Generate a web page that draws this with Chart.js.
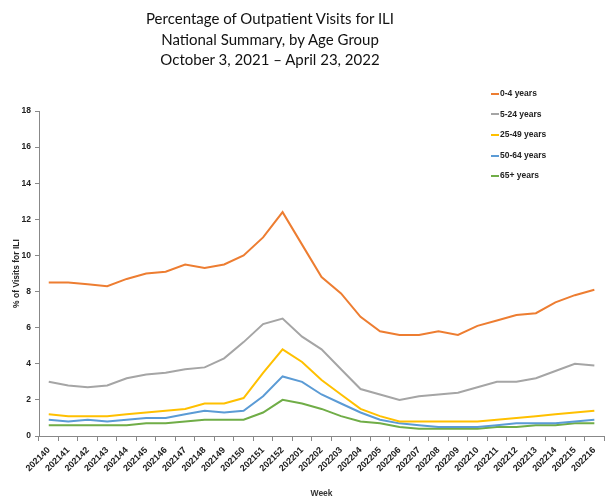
<!DOCTYPE html>
<html>
<head>
<meta charset="utf-8">
<script src="https://cdn.jsdelivr.net/npm/chart.js@4"></script>
<style>
  body { margin: 0; background: #fff; }
  #wrap { position: relative; width: 606px; height: 500px; }
  #title {
    position: absolute; left: 0; top: 8px; width: 540px;
    text-align: center; font-family: Lato, "Open Sans", sans-serif;
    font-size: 15px; line-height: 20.5px; color: #111;
  }
  #legend {
    position: absolute; left: 491px; top: 86px;
    font-family: "Liberation Sans", Arial, sans-serif; font-weight: bold;
    font-size: 8.5px; color: #222;
  }
  #legend div { height: 20.6px; line-height: 14px; white-space: nowrap; }
  #legend span.swatch {
    display: inline-block; width: 8px; height: 2px; vertical-align: middle;
    margin-right: 1px;
  }
</style>
</head>
<body>
<div id="wrap">
  <canvas id="chart" width="606" height="500"></canvas>
  <div id="title">Percentage of Outpatient Visits for ILI<br>National Summary, by Age Group<br>October 3, 2021 – April 23, 2022</div>
  <div id="legend"></div>
</div>
<script>
// --- chart data ---
const weeks = [
  '202140', '202141', '202142', '202143', '202144', '202145', '202146', '202147',
  '202148', '202149', '202150', '202151', '202152',
  '202201', '202202', '202203', '202204', '202205', '202206', '202207', '202208',
  '202209', '202210', '202211', '202212', '202213', '202214', '202215', '202216'
];
const ages0to4   = [8.5, 8.5, 8.4, 8.3, 8.7, 9.0, 9.1, 9.5, 9.3, 9.5, 10.0, 11.0, 12.4,
                    10.6, 8.8, 7.9, 6.6, 5.8, 5.6, 5.6, 5.8, 5.6, 6.1, 6.4, 6.7, 6.8, 7.4, 7.8, 8.1];
const ages5to24  = [3.0, 2.8, 2.7, 2.8, 3.2, 3.4, 3.5, 3.7, 3.8, 4.3, 5.2, 6.2, 6.5,
                    5.5, 4.8, 3.7, 2.6, 2.3, 2.0, 2.2, 2.3, 2.4, 2.7, 3.0, 3.0, 3.2, 3.6, 4.0, 3.9];
const ages25to49 = [1.2, 1.1, 1.1, 1.1, 1.2, 1.3, 1.4, 1.5, 1.8, 1.8, 2.1, 3.5, 4.8,
                    4.1, 3.1, 2.3, 1.5, 1.1, 0.8, 0.8, 0.8, 0.8, 0.8, 0.9, 1.0, 1.1, 1.2, 1.3, 1.4];
const ages50to64 = [0.9, 0.8, 0.9, 0.8, 0.9, 1.0, 1.0, 1.2, 1.4, 1.3, 1.4, 2.2, 3.3,
                    3.0, 2.3, 1.8, 1.3, 0.9, 0.7, 0.6, 0.5, 0.5, 0.5, 0.6, 0.7, 0.7, 0.7, 0.8, 0.9];
const ages65plus = [0.6, 0.6, 0.6, 0.6, 0.6, 0.7, 0.7, 0.8, 0.9, 0.9, 0.9, 1.3, 2.0,
                    1.8, 1.5, 1.1, 0.8, 0.7, 0.5, 0.4, 0.4, 0.4, 0.4, 0.5, 0.5, 0.6, 0.6, 0.7, 0.7];
const seriesNames = ['0-4 years', '5-24 years', '25-49 years', '50-64 years', '65+ years'];
const seriesColors = ['#ED7D31', '#A5A5A5', '#FFC000', '#5B9BD5', '#70AD47'];

const tickFont = { family: '"Liberation Sans", Arial, sans-serif', size: 8.5, weight: 'bold' };
const xTickFont = { family: '"Liberation Sans", Arial, sans-serif', size: 9, weight: 'bold' };

const datasets = [ages0to4, ages5to24, ages25to49, ages50to64, ages65plus].map((vals, i) => ({
    label: seriesNames[i],
    data: vals,
    borderColor: seriesColors[i],
    backgroundColor: seriesColors[i],
    borderWidth: 2,
    pointRadius: 0,
    tension: 0,
    fill: false
}));

new Chart(document.getElementById('chart'), {
    type: 'line',
    data: { labels: weeks, datasets: datasets },
    options: {
        responsive: false,
        animation: false,
        layout: { padding: { top: 111, right: 1, left: 0, bottom: 0 } },
        plugins: {
            legend: { display: false },
            tooltip: { enabled: false }
        },
        scales: {
            x: {
                offset: true,
                grid: { offset: true, drawOnChartArea: false, drawTicks: true, tickLength: 5, color: '#888' },
                border: { color: '#888', width: 1 },
                ticks: { font: xTickFont, color: '#222', minRotation: 45, maxRotation: 45, autoSkip: false, padding: 4 },
                title: { display: true, text: 'Week', font: tickFont, color: '#333', padding: { top: 0, bottom: 1 } },
                afterFit(scale) { scale.height = 64; }
            },
            y: {
                min: 0,
                max: 18,
                ticks: { stepSize: 2, font: tickFont, color: '#222', padding: 4 },
                grid: { drawOnChartArea: false, drawTicks: true, tickLength: 4, color: '#888' },
                border: { color: '#888', width: 1 },
                title: { display: true, text: '% of Visits for ILI', font: tickFont, color: '#222', padding: { top: 12, bottom: 0 } },
                afterFit(scale) { scale.width = 39; }
            }
        }
    }
});

// legend built from the same arrays
const legendBox = document.getElementById('legend');
legendBox.innerHTML = seriesNames.map((name, i) =>
    `<div><span class="swatch" style="background:${seriesColors[i]}"></span>${name}</div>`
).join('');
</script>
</body>
</html>
